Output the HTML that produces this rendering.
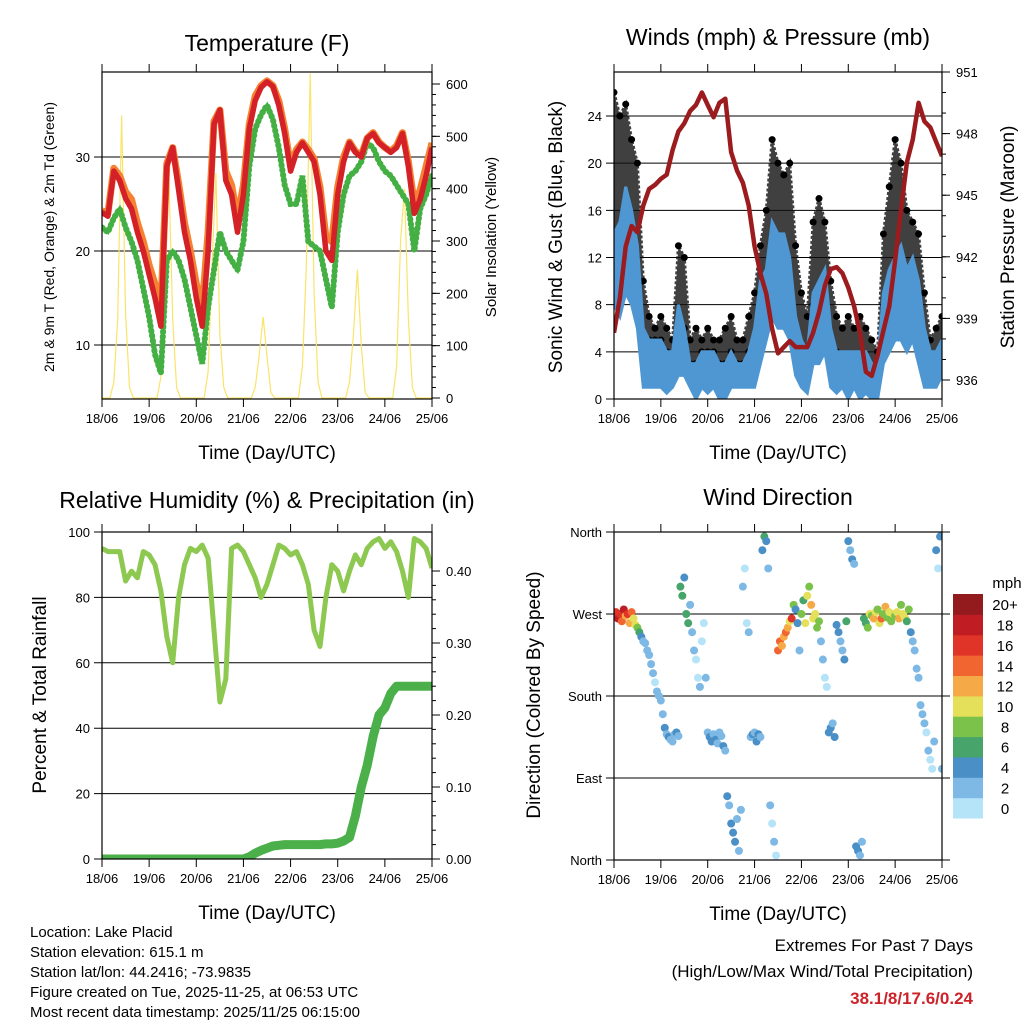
<!DOCTYPE html>
<html><head><meta charset="utf-8">
<style>
html,body{margin:0;padding:0;background:#fff;}
svg{display:block;font-family:"Liberation Sans",Arial,sans-serif;}
</style></head>
<body>
<svg id="c" width="1024" height="1024" viewBox="0 0 1024 1024">
<defs>
<clipPath id="cp1"><rect x="102" y="72" width="330" height="327"/></clipPath>
<clipPath id="cp2"><rect x="614" y="72" width="328" height="327"/></clipPath>
<clipPath id="cp3"><rect x="102" y="532" width="330" height="327"/></clipPath>
<clipPath id="cp4"><rect x="614" y="532" width="328" height="328"/></clipPath>
</defs>
<g font-size="15" fill="#000">
<text x="30" y="937">Location: Lake Placid</text>
<text x="30" y="957">Station elevation: 615.1 m</text>
<text x="30" y="977">Station lat/lon: 44.2416; -73.9835</text>
<text x="30" y="997">Figure created on Tue, 2025-11-25, at 06:53 UTC</text>
<text x="30" y="1017">Most recent data timestamp: 2025/11/25 06:15:00</text>
</g>
<g font-size="17" text-anchor="end">
<text x="973" y="951">Extremes For Past 7 Days</text>
<text x="973" y="977">(High/Low/Max Wind/Total Precipitation)</text>
<text x="973" y="1004" fill="#cc2229" font-weight="bold">38.1/8/17.6/0.24</text>
</g>
</svg>
<script>
// ---- data (3-hourly unless noted) ----
const dayLabels=["18/06","19/06","20/06","21/06","22/06","23/06","24/06","25/06"];
const temp2m=[24.1,23.7,28.5,27.5,25.6,24.5,22,20,17.5,15,12,29,31,26.5,22,19,15,12,20,33.5,35,27.5,26,22,26,33,36,37.4,38,37.5,35.5,32.5,28.5,30.5,31.5,30.5,29.5,26,20,19,26,29.5,31.5,30.5,30,32,32.5,31.5,31,30.5,31,32.5,29,24,25.5,28,31];
const temp9m=[24.3,24,28.8,28,26.3,25.5,23,21,18.5,16.5,14,29.3,31,27.2,23,20,16.5,14,22,33.8,35,28.5,27,23.5,27,33.5,36.5,37.6,38.1,37.6,36,33,29,30.8,31.6,30.8,29.8,26.8,21.5,21,26.8,30,31.6,30.6,30.2,32,32.6,31.6,31,30.6,31.2,32.6,29.5,25,26.5,29,31.5];
const dewpt=[22.5,22,23.5,24.5,22.5,21,19,16,13,9,7,19,20,19,17,14,11,8,14,18,22,20,19,18,21,29,33,34.5,35.5,34,31,27,25,25,28,21,20.5,20,17,14,22,26,28,28.5,29.5,31.5,31,29.5,28.5,28,27,26,25,20,24.5,26,28];
// solar: 2-hourly
const solar=[0,0,0,30,150,540,160,20,0,0,0,0, 0,0,0,40,200,430,150,20,0,0,0,0, 0,0,0,50,250,430,120,20,0,0,0,0, 0,0,0,20,80,155,80,10,0,0,0,0, 0,0,0,60,250,620,200,30,0,0,0,0, 0,0,0,30,120,245,100,10,0,0,0,0, 0,0,0,60,300,400,150,20,0,0,0,0, 0];
const windLo=[8,7,9,8,6,1,1,1,1,0.5,1,2,2,1,0,1,0.5,1,0,0,1,1,1,1,1,3,5,7,6,6,5,2,1,0.5,3,3,4,1,0.5,1,0,1,0,0.5,0,0,3,4,5,5,4,5,3,1,1,1,2];
const windHi=[14,15,18,16,13,6,5,5,5,4,4,8,6,3,3,4,4,4,3,3,4,3,3,4,6,10,11,15,14,14,12,7,5,4,9,10,11,6,4,4,4,4,4,4,3,3,9,11,12,13,11,12,10,6,4,4,5];
const gustLo=[12,14,16,14,10,4,5,5,5,4,3,6,6,3,3,4,4,4,3,3,4,3,3,4,4,6,10,12,12,12,10,6,4,4,8,9,9,4,4,3,3,3,3,3,2,2,6,9,10,10,8,8,7,4,3,3,4];
const gustHi=[26,24,25,22,20,10,7,6,7,6,5,13,12,5,6,5,6,5,5,6,7,5,5,7,9,13,16,22,20,19,20,13,9,7,15,17,15,10,7,6,7,6,7,6,5,4,14,18,22,20,16,15,14,9,5,6,7];
const pressure=[938.3,940,942.5,943.5,943.2,944.5,945.3,945.5,945.8,946,947.2,948.1,948.5,949.1,949.4,950,949.4,948.8,949.5,949.7,947.1,946.2,945.6,944.5,942.5,941.2,940.2,938.5,937.3,937.6,937.9,937.6,937.6,937.6,938.3,939.3,940.6,941.4,941.5,941.2,940.5,939.6,938.3,936.4,936.2,937.2,938.4,939.6,941.8,944.3,946.6,947.7,949.5,948.6,948.3,947.6,946.9];
const rh=[95,94,94,94,85,88,86,94,93,90,82,68,60,80,90,95,94,96,92,70,48,55,95,96,94,90,86,80,84,90,96,95,93,94,90,84,70,65,80,90,88,82,88,93,90,95,97,98,95,97,94,88,80,98,97,95,89];
const precip=[0,0,0,0,0,0,0,0,0,0,0,0,0,0,0,0,0,0,0,0,0,0,0,0,0,0.003,0.008,0.012,0.015,0.018,0.019,0.02,0.02,0.02,0.02,0.02,0.02,0.02,0.021,0.021,0.022,0.025,0.03,0.06,0.10,0.13,0.17,0.20,0.21,0.23,0.24,0.24,0.24,0.24,0.24,0.24,0.24];
// wind direction: hourly
const windDir=[268,272,265,270,262,275,268,270,260,272,265,258,255,250,245,240,238,230,225,215,205,195,185,180,
175,160,145,138,135,132,130,138,140,136,300,290,310,270,260,280,250,230,220,200,190,240,260,200,
140,135,130,138,132,128,140,136,125,120,70,60,40,30,20,45,10,55,300,320,260,250,135,138,
140,130,138,135,340,355,350,320,60,40,20,5,230,240,235,245,250,255,262,265,280,275,260,230,
270,285,260,290,300,280,265,270,255,262,240,220,200,190,140,145,150,135,258,250,240,230,220,262,
350,340,330,325,15,10,5,20,265,260,255,270,268,265,272,275,260,265,270,278,266,272,262,270,
268,272,265,280,270,266,262,275,250,240,230,210,200,170,160,150,140,120,110,100,130,340,320,355,100];
const windSpd=[14,16,18,17,15,18,13,16,12,14,11,10,8,6,4,3,3,2,3,2,2,1,2,2,
2,3,4,3,4,3,3,2,4,2,6,7,5,7,6,3,2,2,1,1,2,1,1,2,
3,4,4,3,4,3,2,3,4,3,4,3,4,5,4,3,2,3,2,1,1,2,3,4,
3,4,4,3,4,7,4,3,2,1,2,1,14,15,13,12,14,12,10,16,8,5,4,3,
8,7,11,10,9,12,10,11,9,8,2,2,1,1,4,4,3,4,4,4,3,2,4,6,
4,3,4,2,4,4,3,2,7,6,8,10,9,12,11,8,10,14,9,12,8,10,9,11,
9,10,12,8,10,11,7,9,4,3,3,2,2,2,3,2,1,2,1,1,2,4,1,4,2];
const tempTicks=[10,20,30];
const solarTicks=[0,100,200,300,400,500,600];
const windTicks=[0,4,8,12,16,20,24];
const presTicks=[936,939,942,945,948,951];
const rhTicks=[0,20,40,60,80,100];
const precipTicks=[0,0.1,0.2,0.3,0.4];
const dirTicks=[0,90,180,270,360];
const dirNames=["North","East","South","West","North"];
const speedBins=[0,2,4,6,8,10,12,14,16,18,20];
const binColors=["#b5e3f8","#7db9e4","#4a8fc6","#47a56c","#7bc24a","#e5e05a","#f5aa47","#f06530","#df3427","#bf1c24","#931a1d"];

const S=document.getElementById('c');
const NS='http://www.w3.org/2000/svg';
function mk(tag,attrs,parent){const e=document.createElementNS(NS,tag);for(const k in attrs)e.setAttribute(k,attrs[k]);(parent||S).appendChild(e);return e;}
function txt(s,attrs,parent){const e=mk('text',attrs,parent);e.textContent=s;return e;}

function xAxis(x0,x1){return d=>x0+d/7*(x1-x0);}
function lin(v0,y0,v1,y1){return v=>y0+(v-v0)*(y1-y0)/(v1-v0);}

function frame(g,x0,y0,x1,y1,xs){
  mk('rect',{x:x0,y:y0,width:x1-x0,height:y1-y0,fill:'none',stroke:'#000','stroke-width':1.2},g);
  for(let d=0;d<=7;d++){const x=xs(d);
    mk('line',{x1:x,y1:y1,x2:x,y2:y1+8,stroke:'#000','stroke-width':1},g);
    mk('line',{x1:x,y1:y0,x2:x,y2:y0-8,stroke:'#000','stroke-width':1},g);
    const t=txt(dayLabels[d],{x:x,y:y1+24,'font-size':13,'text-anchor':'middle'},g);
    
    
  }
  const t=txt('Time (Day/UTC)',{x:(x0+x1)/2,y:y1+60,'font-size':19,'text-anchor':'middle'},g);
  
  
}
function yLeft(g,ticks,ys,x0,x1,fmt,grid,gx1){
  ticks.forEach((v,i)=>{const y=ys(v);
    if(grid) mk('line',{x1:x0-8,y1:y,x2:gx1||x1,y2:y,stroke:'#000','stroke-width':1},g);
    else mk('line',{x1:x0-8,y1:y,x2:x0,y2:y,stroke:'#000','stroke-width':1},g);
    const t=txt(fmt(v,i),{x:x0-12,y:y+5,'font-size':13,'text-anchor':'end'},g);
    
    
  });
}
function yRight(g,ticks,ys,x1,fmt,minorStep){
  ticks.forEach(v=>{const y=ys(v);
    mk('line',{x1:x1,y1:y,x2:x1+8,y2:y,stroke:'#000','stroke-width':1},g);
    const t=txt(fmt(v),{x:x1+14,y:y+5,'font-size':13},g);
    
    
  });
  if(minorStep){const a=ticks[0],b=ticks[ticks.length-1];
    for(let v=a;v<=b+1e-9;v+=minorStep){const y=ys(v);mk('line',{x1:x1,y1:y,x2:x1+4,y2:y,stroke:'#000','stroke-width':1},g);}}
}
function rotTitle(g,s,x,y,size){return txt(s,{x:x,y:y,'font-size':size,'text-anchor':'middle',transform:`rotate(-90 ${x} ${y})`},g);}
function path(arr,xs,ys,step){return arr.map((v,i)=>(i?'L':'M')+xs(i*step).toFixed(1)+' '+ys(v).toFixed(1)).join('');}

// ===== Panel 1: Temperature =====
{
const g=mk('g',{});


const xs=xAxis(102,432), ty=lin(30,157,10,345), sy=lin(0,398,600,84);
const t=txt('Temperature (F)',{x:267,y:51,'font-size':23,'text-anchor':'middle'},g);


yLeft(g,tempTicks,ty,102,432,v=>v,true);
yRight(g,solarTicks,sy,432,v=>v,20);
const p=mk('g',{'clip-path':'url(#cp1)'},g);
const sp=mk('path',{d:path(solar,xs,sy,1/12),fill:'none',stroke:'#f9e46a','stroke-width':1.2},p);


const dp=mk('path',{d:path(dewpt,xs,ty,1/8),fill:'none',stroke:'#44b044','stroke-width':6,'stroke-dasharray':'1 4','stroke-linecap':'round'},p);


const dp2=mk('path',{d:path(dewpt,xs,ty,1/8),fill:'none',stroke:'#44b044','stroke-width':3.5},p);


const op=mk('path',{d:path(temp9m,xs,ty,1/8),fill:'none',stroke:'#f58132','stroke-width':7,'stroke-linejoin':'round'},p);


const rp=mk('path',{d:path(temp2m,xs,ty,1/8),fill:'none',stroke:'#d42027','stroke-width':5.5,'stroke-linejoin':'round'},p);


frame(g,102,72,432,399,xs);
const a=rotTitle(g,'2m & 9m T (Red, Orange) & 2m Td (Green)',54,237,14);


const b=rotTitle(g,'Solar Insolation (Yellow)',496,237,15);


}

// ===== Panel 2: Winds =====
{
const g=mk('g',{});


const xs=xAxis(614,942), wy=lin(0,399,24,116), py=lin(936,380,951,72);
const t=txt('Winds (mph) & Pressure (mb)',{x:778,y:45,'font-size':23,'text-anchor':'middle'},g);


yLeft(g,windTicks,wy,614,942,v=>v,true);
yRight(g,presTicks,py,942,v=>v,1);
const p=mk('g',{'clip-path':'url(#cp2)'},g);
const step=1/8;
const gb=gustHi.map((v,i)=>xs(i*step).toFixed(1)+','+wy(v).toFixed(1)).concat(gustLo.map((v,i)=>xs(i*step).toFixed(1)+','+wy(v).toFixed(1)).reverse()).join(' ');
const gp=mk('polygon',{points:gb,fill:'#111',stroke:'#111','stroke-width':3,'stroke-dasharray':'3 2',opacity:0.8},p);


gustHi.forEach((v,i)=>{
  const c=mk('circle',{cx:xs(i*step),cy:wy(v),r:3.5,fill:'#000'},p);
  
  
});
gustLo.forEach((v,i)=>{
  const c=mk('circle',{cx:xs(i*step),cy:wy(v),r:3.5,fill:'#000'},p);
  
  
});
const wb=windHi.map((v,i)=>xs(i*step).toFixed(1)+','+wy(v).toFixed(1)).concat(windLo.map((v,i)=>xs(i*step).toFixed(1)+','+wy(v).toFixed(1)).reverse()).join(' ');
const wp=mk('polygon',{points:wb,fill:'#4f97d2',stroke:'#4f97d2','stroke-width':3},p);


const pp=mk('path',{d:path(pressure,xs,py,step),fill:'none',stroke:'#9b1b1e','stroke-width':4.5,'stroke-linejoin':'round'},p);


frame(g,614,72,942,399,xs);
const a=rotTitle(g,'Sonic Wind & Gust (Blue, Black)',562,237,19);


const b=rotTitle(g,'Station Pressure (Maroon)',1014,237,19);


}

// ===== Panel 3: RH & Precip =====
{
const g=mk('g',{});


const xs=xAxis(102,432), ry=lin(0,859,100,532), qy=lin(0,859,0.4,571);
const t=txt('Relative Humidity (%) & Precipitation (in)',{x:267,y:508,'font-size':23,'text-anchor':'middle'},g);


yLeft(g,rhTicks,ry,102,432,v=>v,true);
yRight(g,precipTicks,qy,432,v=>v.toFixed(2),0.02);
const p=mk('g',{'clip-path':'url(#cp3)'},g);
const pr=mk('path',{d:path(precip,xs,qy,1/8),fill:'none',stroke:'#4bb04a','stroke-width':9,'stroke-linejoin':'round','stroke-linecap':'round'},p);


const rl=mk('path',{d:path(rh,xs,ry,1/8),fill:'none',stroke:'#8dc850','stroke-width':5,'stroke-linejoin':'round'},p);


frame(g,102,532,432,859,xs);
const a=rotTitle(g,'Percent & Total Rainfall',46,695,19);


}

// ===== Panel 4: Wind Direction =====
{
const g=mk('g',{});


const xs=xAxis(614,942), dy=lin(0,860,360,532);
const t=txt('Wind Direction',{x:778,y:505,'font-size':23,'text-anchor':'middle'},g);


yLeft(g,dirTicks,dy,614,942,(v,i)=>dirNames[i],true,950);
const p=mk('g',{'clip-path':'url(#cp4)'},g);
function col(s){let k=0;for(let i=0;i<speedBins.length;i++)if(s>=speedBins[i])k=i;return binColors[k];}
windDir.forEach((d,i)=>{
  const c=mk('circle',{cx:xs(i/24),cy:dy(d),r:4,fill:col(windSpd[i])},p);
  
  
});
frame(g,614,532,942,860,xs);
const a=rotTitle(g,'Direction (Colored By Speed)',540,695,19);


const lg=mk('g',{},g);


const h=224/binColors.length;
binColors.forEach((c,i)=>{
  const y=818-(i+1)*h;
  const r=mk('rect',{x:953,y:y.toFixed(1),width:30,height:(h+0.5).toFixed(1),fill:c},lg);
  
  
  const lt=txt(i===binColors.length-1?'20+':String(speedBins[i]),{x:1005,y:(y+h/2+6).toFixed(1),'font-size':15,'text-anchor':'middle'},lg);
  
  
});
const m=txt('mph',{x:1007,y:588,'font-size':15,'text-anchor':'middle'},lg);


}
</script>
</body></html>
